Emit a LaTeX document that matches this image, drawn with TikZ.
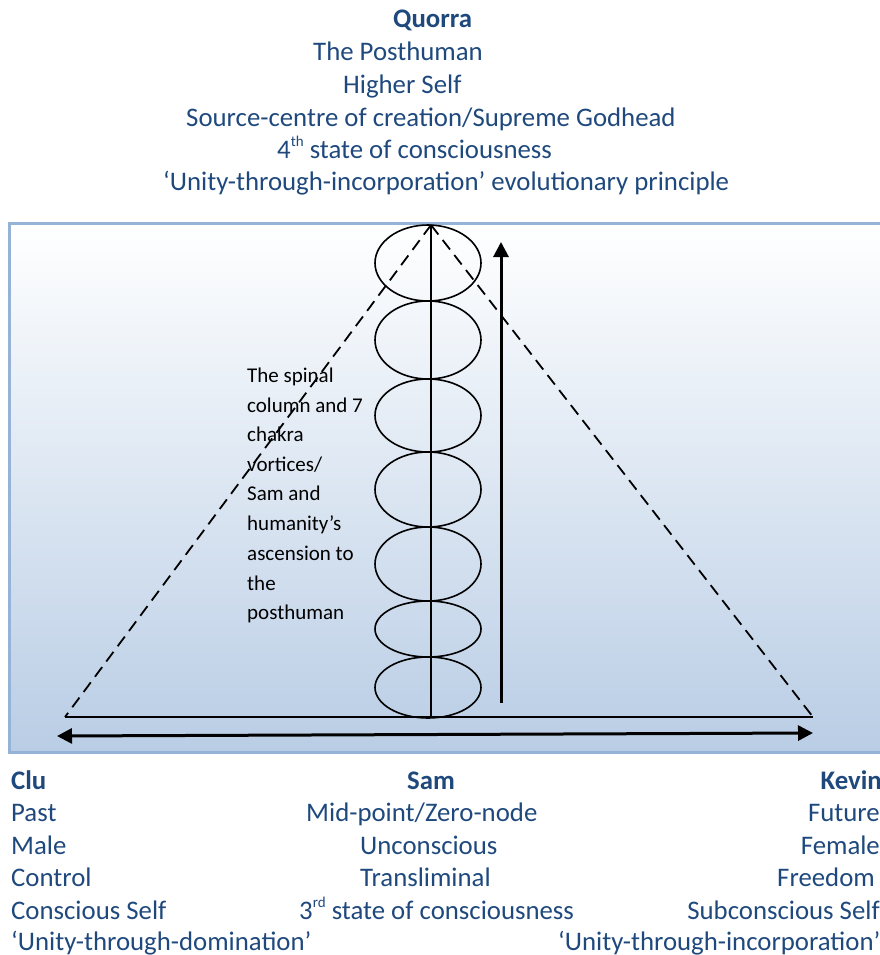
\documentclass[tikz,border=0pt]{standalone}
\usepackage{fontspec}
\setmainfont{Carlito}
\usetikzlibrary{arrows.meta}
\definecolor{txtblue}{HTML}{1F497D}
\definecolor{boxedge}{HTML}{95B3D7}
\definecolor{boxbot}{HTML}{B9CDE5}
\newcommand{\supx}[1]{\raisebox{0.9ex}{\fontsize{15}{15}\selectfont #1}}
\begin{document}
\begin{tikzpicture}[x=1pt,y=-1pt,
  big/.style={inner sep=0pt,text=txtblue,font=\fontsize{26.8}{31}\selectfont},
  bigb/.style={big,font=\fontsize{26.8}{31}\selectfont\bfseries},
  small/.style={inner sep=0pt,text=black,font=\fontsize{21}{24}\selectfont},
  chakra/.style={draw=black,line width=1.6pt},
  dashline/.style={draw=black,line width=1.8pt,dash pattern=on 12pt off 7pt},
  solid line/.style={draw=black,line width=2.5pt},
  arrowline/.style={draw=black,line width=3pt,-{Triangle[length=15pt,width=15pt]}},
  dblarrow/.style={draw=black,line width=3pt,{Triangle[length=15pt,width=15pt]}-{Triangle[length=15pt,width=15pt]}}]
\useasboundingbox (0,0) rectangle (880,955);
% background panel
\shade[top color=white,bottom color=boxbot] (9,223) rectangle (900,752);
\draw[boxedge,line width=3pt] (900,223) -- (9,223) -- (9,752) -- (900,752);
% coordinates
\coordinate (apex) at (431,225);
\coordinate (bl) at (65,717);
\coordinate (br) at (813,717);
\coordinate (base) at (431,717);
\coordinate (al) at (57,736);
\coordinate (ar) at (813,733);
\coordinate (ub) at (501,703);
\coordinate (ut) at (501,242);
% chakra ellipses
\foreach \c/\h in {263/38,340/39,415.5/36.5,489.5/37.5,564/37,629/28,687.5/30.5}
  \draw[chakra] (428,\c) ellipse [x radius=53pt,y radius=\h pt];
% spine
\draw[chakra] (apex) -- (base);
% triangle
\draw[dashline] (apex) -- (bl);
\draw[dashline] (apex) -- (br);
\draw[solid line] (bl) -- (br);
% arrows
\draw[dblarrow] (al) -- (ar);
\draw[arrowline] (ub) -- (ut);
% top text
\node[bigb,anchor=base west] (q1) at (393,28) {Quorra};
\node[big,anchor=base west] (q2) at (313,61) {The Posthuman};
\node[big,anchor=base west] (q3) at (343,94) {Higher Self};
\node[big,anchor=base west] (q4) at (186,126) {Source-centre of creation/Supreme Godhead};
\node[big,anchor=base west] (q5) at (277,158) {4\supx{th} state of consciousness};
\node[big,anchor=base west] (q6) at (163,190) {‘Unity-through-incorporation’ evolutionary principle};
% inner label
\foreach \t/\y [count=\i] in {The spinal/382,column and 7/412,chakra/441,vortices\slash/471,Sam and/500,humanity’s/530,ascension to/560,the/590,posthuman/619}
  \node[small,anchor=base west] (s\i) at (247,\y) {\t};
% bottom left column
\node[bigb,anchor=base west] (c1) at (11,789) {Clu};
\node[big,anchor=base west] (c2) at (11,821) {Past};
\node[big,anchor=base west] (c3) at (11,854) {Male};
\node[big,anchor=base west] (c4) at (11,886) {Control};
\node[big,anchor=base west] (c5) at (11,919) {Conscious Self};
\node[big,anchor=base west] (c6) at (11,950) {‘Unity-through-domination’};
% bottom middle column
\node[bigb,anchor=base west] (m1) at (407,789) {Sam};
\node[big,anchor=base west] (m2) at (306,821) {Mid-point/Zero-node};
\node[big,anchor=base west] (m3) at (360,854) {Unconscious};
\node[big,anchor=base west] (m4) at (360,886) {Transliminal};
\node[big,anchor=base west] (m5) at (299,919) {3\supx{rd} state of consciousness};
\node[big,anchor=base west] (m6) at (558,950) {‘Unity-through-incorporation’};
% bottom right column
\node[bigb,anchor=base east] (k1) at (882,789) {Kevin};
\node[big,anchor=base east] (k2) at (880,821) {Future};
\node[big,anchor=base east] (k3) at (880,854) {Female};
\node[big,anchor=base east] (k4) at (875,886) {Freedom};
\node[big,anchor=base east] (k5) at (880,919) {Subconscious Self};
\end{tikzpicture}
\end{document}
